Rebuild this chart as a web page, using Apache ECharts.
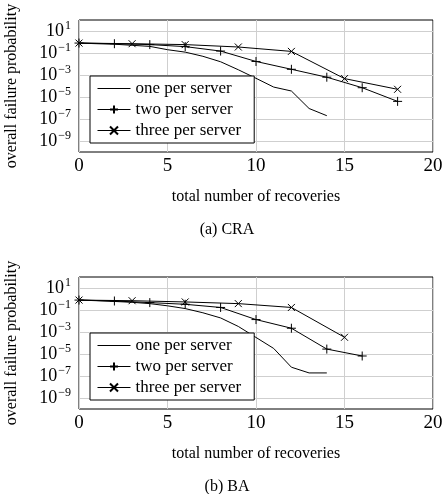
<!DOCTYPE html>
<html>
<head>
<meta charset="utf-8">
<script src="https://cdn.jsdelivr.net/npm/echarts@6/dist/echarts.min.js"></script>
<style>
  html, body { margin: 0; padding: 0; background: #fff; }
  #chart { width: 448px; height: 494px; }
</style>
</head>
<body>
<div id="chart"></div>
<script>
// series names / captions
const seriesNames = ['one per server', 'two per server', 'three per server'];
const captions = ['(a) CRA', '(b) BA'];

// (a) CRA
const craRecOne = [0, 1, 2, 3, 4, 5, 6, 7, 8, 9, 10, 11, 12, 13, 14];
const craOne = [0.8, 0.7, 0.63, 0.5, 0.4, 0.2, 0.12, 0.05, 0.016, 3e-3, 5e-4, 8e-5, 3.5e-5, 9e-7, 2e-7];
const craRecTwo = [0, 2, 4, 6, 8, 10, 12, 14, 16, 18];
const craTwo = [0.8, 0.7, 0.58, 0.38, 0.15, 0.017, 3.3e-3, 6.3e-4, 7e-5, 4e-6];
const craRecThree = [0, 3, 6, 9, 12, 15, 18];
const craThree = [0.8, 0.7, 0.58, 0.35, 0.14, 4.7e-4, 5e-5];

// (b) BA
const baRecOne = [0, 1, 2, 3, 4, 5, 6, 7, 8, 9, 10, 11, 12, 13, 14];
const baOne = [0.8, 0.7, 0.6, 0.5, 0.38, 0.24, 0.135, 0.056, 0.019, 3.2e-3, 3.2e-4, 3.2e-5, 6.3e-7, 1.9e-7, 1.9e-7];
const baRecTwo = [0, 2, 4, 6, 8, 10, 12, 14, 16];
const baTwo = [0.8, 0.66, 0.47, 0.33, 0.17, 0.0135, 2.2e-3, 2.8e-5, 6.6e-6];
const baRecThree = [0, 3, 6, 9, 12, 15];
const baThree = [0.8, 0.7, 0.54, 0.38, 0.17, 3.3e-4];

const FONT = '"Liberation Serif", "DejaVu Serif", serif';
const PLUS = 'path://M0,5L10,5M5,0L5,10';
const CROSS = 'path://M0,0L10,10M0,10L10,0';

const pairs = (xs, ys) => xs.map((x, i) => [x, ys[i]]);

function logLabel(v) {
    const e = Math.round(Math.log10(v));
    if (e % 2 === 0) return '';
    return '{b|10}{s|' + (e < 0 ? '\u2212' + (-e) : e) + '}';
}

function makeSeries(gi, data) {
    const symbols = ['none', PLUS, CROSS];
    const sizes = [0, 9, 7];
    return data.map((d, i) => ({
        name: seriesNames[i],
        type: 'line',
        xAxisIndex: gi,
        yAxisIndex: gi,
        data: d,
        symbol: symbols[i],
        symbolSize: sizes[i],
        showSymbol: i > 0,
        lineStyle: { color: '#000', width: 1 },
        itemStyle: { color: '#000', borderColor: '#000', borderWidth: 1 },
        animation: false,
        z: 3
    }));
}

const tops = [20, 277];
const grids = tops.map(t => ({
    left: 79, top: t, width: 354, height: 132,
    outerBoundsMode: 'none', containLabel: false,
    show: true, borderColor: '#000', borderWidth: 1, backgroundColor: 'transparent'
}));

const xAxes = tops.map((t, i) => ({
    type: 'value', gridIndex: i, min: 0, max: 20, interval: 5,
    name: 'total number of recoveries', nameLocation: 'middle', nameGap: 37,
    nameTextStyle: { fontFamily: FONT, fontSize: 16, color: '#000' },
    axisLine: { show: false },
    axisTick: { show: false },
    axisLabel: { fontFamily: FONT, fontSize: 19, color: '#000', margin: 5 },
    splitLine: { lineStyle: { color: '#cfcfcf', width: 1 } }
}));

const yAxes = tops.map((t, i) => ({
    type: 'log', logBase: 10, gridIndex: i, min: 1e-10, max: 1e2, interval: 1,
    name: 'overall failure probability', nameLocation: 'middle', nameGap: 59,
    nameTextStyle: { fontFamily: FONT, fontSize: 16, color: '#000' },
    axisLine: { show: false },
    axisTick: { show: false },
    axisLabel: {
        formatter: logLabel, margin: 8, color: '#000',
        rich: {
            b: { fontFamily: FONT, fontSize: 18, color: '#000' },
            s: { fontFamily: FONT, fontSize: 12, color: '#000', padding: [0, 0, 10, 1] }
        }
    },
    splitLine: { lineStyle: { color: ['rgba(0,0,0,0)', '#cfcfcf'], width: 1 } }
}));

const legendItems = seriesNames.map((n, i) => i === 0
    ? { name: n, itemStyle: { color: 'rgba(0,0,0,0)', borderColor: 'rgba(0,0,0,0)' } }
    : { name: n });

const legends = [76, 333].map(t => ({
    left: 90, top: t, orient: 'vertical',
    data: legendItems,
    backgroundColor: '#fff', borderColor: '#000', borderWidth: 1,
    padding: [4, 13, 4, 7], itemGap: 4, itemWidth: 33, itemHeight: 10,
    lineStyle: { width: 1, color: '#000' },
    textStyle: { fontFamily: FONT, fontSize: 17, color: '#000', lineHeight: 17 },
    selectedMode: false, z: 10
}));

const titles = captions.map((c, i) => ({
    text: c, left: 222, top: [217, 474][i], textAlign: 'center',
    textStyle: { fontFamily: FONT, fontSize: 16, fontWeight: 'normal', color: '#000' }
}));

const chart = echarts.init(document.getElementById('chart'), null, { renderer: 'canvas' });
chart.setOption({
    animation: false,
    backgroundColor: '#fff',
    title: titles,
    legend: legends,
    grid: grids,
    xAxis: xAxes,
    yAxis: yAxes,
    series: [
        ...makeSeries(0, [pairs(craRecOne, craOne), pairs(craRecTwo, craTwo), pairs(craRecThree, craThree)]),
        ...makeSeries(1, [pairs(baRecOne, baOne), pairs(baRecTwo, baTwo), pairs(baRecThree, baThree)])
    ]
});
</script>
</body>
</html>
